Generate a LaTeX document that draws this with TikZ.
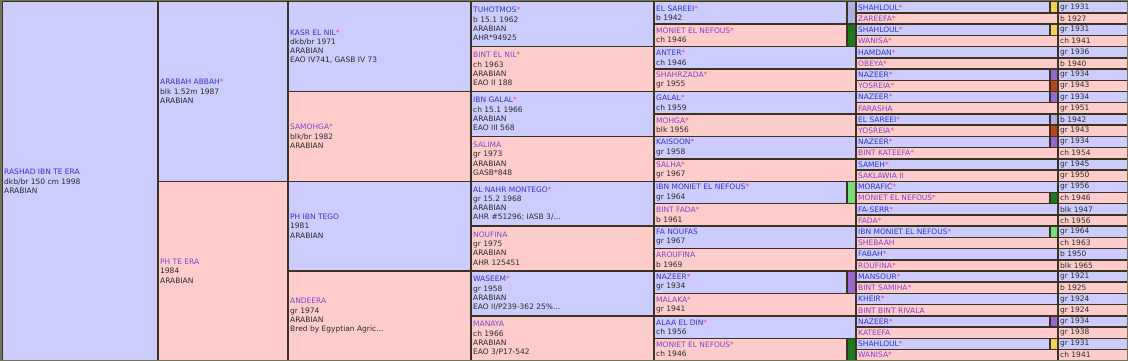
\documentclass[tikz,border=0pt]{standalone}
\usepackage{fontspec}
\setmainfont{DejaVu Sans}
\definecolor{bgm}{HTML}{CCCCFF}
\definecolor{bgf}{HTML}{FFCCCC}
\definecolor{bord}{HTML}{3B3222}
\definecolor{frame}{HTML}{75755A}
\definecolor{mname}{HTML}{3434C4}
\definecolor{fname}{HTML}{7C44CC}
\definecolor{star}{HTML}{F0406A}
\definecolor{info}{HTML}{2A2A2A}
\definecolor{swlav}{HTML}{AFAFE0}
\definecolor{swdg}{HTML}{1C7A1C}
\definecolor{swlg}{HTML}{7ADF7A}
\definecolor{swpur}{HTML}{9966CC}
\definecolor{swyel}{HTML}{F2D060}
\definecolor{swrust}{HTML}{B8461C}
\tikzset{
 cellbox/.style={rectangle, draw=bord, line width=1.5pt, inner sep=0pt, anchor=north west},
 txt/.style={anchor=west, align=left, inner sep=0pt, text=info, font=\fontsize{7.5}{9.3}\selectfont},
}
\newcommand\RH{11.21875}
\newcommand\mName[1]{\textcolor{mname}{#1}}
\newcommand\fName[1]{\textcolor{fname}{#1}}
\newcommand\pstar{\textcolor{star}{*}}
% id, x, row, width, nrows, fill
\newcommand\pcell[6]{\node[cellbox, fill=#6, minimum width=#4pt, minimum height={#5*\RH}] (#1) at (#2, {-(1+#3*\RH)}) {};}
\newcommand\ptext[2]{\node[txt] (#1t) at ([xshift=3pt]#1.west) {#2};}
% col6 without swatch: id,row,content,date,bg
\newcommand\six[5]{\pcell{#1}{855}{#2}{202}{1}{#5}\ptext{#1}{#3}\pcell{#1d}{1057}{#2}{70}{1}{#5}\ptext{#1d}{#4}}
% col6 with swatch
\newcommand\sixs[6]{\pcell{#1}{855}{#2}{194}{1}{#5}\ptext{#1}{#3}\pcell{#1s}{1049}{#2}{8}{1}{#6}\pcell{#1d}{1057}{#2}{70}{1}{#5}\ptext{#1d}{#4}}
% col5 without swatch: id,row,content,bg
\newcommand\five[4]{\pcell{#1}{653}{#2}{202}{2}{#4}\ptext{#1}{#3}}
\newcommand\fives[5]{\pcell{#1}{653}{#2}{193}{2}{#4}\ptext{#1}{#3}\pcell{#1s}{846}{#2}{9}{2}{#5}}
\begin{document}
\begin{tikzpicture}[x=1pt,y=1pt]
\useasboundingbox (0,0) rectangle (1128,-361);
\fill[white] (0,0) rectangle (1128,-361);
% column 1
\pcell{a}{1}{0}{156}{32}{bgm}
\ptext{a}{\mName{RASHAD IBN TE ERA}\\dkb/br 150 cm 1998\\ARABIAN}
% column 2
\pcell{b1}{157}{0}{130}{16}{bgm}
\ptext{b1}{\mName{ARABAH ABBAH}\pstar\\blk 1.52m 1987\\ARABIAN}
\pcell{b2}{157}{16}{130}{16}{bgf}
\ptext{b2}{\fName{PH TE ERA}\\1984\\ARABIAN}
% column 3
\pcell{c1}{287}{0}{183}{8}{bgm}
\ptext{c1}{\mName{KASR EL NIL}\pstar\\dkb/br 1971\\ARABIAN\\EAO IV741, GASB IV 73}
\pcell{c2}{287}{8}{183}{8}{bgf}
\ptext{c2}{\fName{SAMOHGA}\pstar\\blk/br 1982\\ARABIAN}
\pcell{c3}{287}{16}{183}{8}{bgm}
\ptext{c3}{\mName{PH IBN TEGO}\\1981\\ARABIAN}
\pcell{c4}{287}{24}{183}{8}{bgf}
\ptext{c4}{\fName{ANDEERA}\\gr 1974\\ARABIAN\\Bred by Egyptian Agric...}
% column 4
\pcell{d1}{470}{0}{183}{4}{bgm}
\ptext{d1}{\mName{TUHOTMOS}\pstar\\b 15.1 1962\\ARABIAN\\AHR*94925}
\pcell{d2}{470}{4}{183}{4}{bgf}
\ptext{d2}{\fName{BINT EL NIL}\pstar\\ch 1963\\ARABIAN\\EAO II 188}
\pcell{d3}{470}{8}{183}{4}{bgm}
\ptext{d3}{\mName{IBN GALAL}\pstar\\ch 15.1 1966\\ARABIAN\\EAO III 568}
\pcell{d4}{470}{12}{183}{4}{bgf}
\ptext{d4}{\fName{SALIMA}\\gr 1973\\ARABIAN\\GASB*848}
\pcell{d5}{470}{16}{183}{4}{bgm}
\ptext{d5}{\mName{AL NAHR MONTEGO}\pstar\\gr 15.2 1968\\ARABIAN\\AHR \#51296; IASB 3/...}
\pcell{d6}{470}{20}{183}{4}{bgf}
\ptext{d6}{\fName{NOUFINA}\\gr 1975\\ARABIAN\\AHR 125451}
\pcell{d7}{470}{24}{183}{4}{bgm}
\ptext{d7}{\mName{WASEEM}\pstar\\gr 1958\\ARABIAN\\EAO II/P239-362 25\%...}
\pcell{d8}{470}{28}{183}{4}{bgf}
\ptext{d8}{\fName{MANAYA}\\ch 1966\\ARABIAN\\EAO 3/P17-542}
% column 5
\fives{e1}{0}{\mName{EL SAREEI}\pstar\\b 1942}{bgm}{swlav}
\fives{e2}{2}{\fName{MONIET EL NEFOUS}\pstar\\ch 1946}{bgf}{swdg}
\five{e3}{4}{\mName{ANTER}\pstar\\ch 1946}{bgm}
\five{e4}{6}{\fName{SHAHRZADA}\pstar\\gr 1955}{bgf}
\five{e5}{8}{\mName{GALAL}\pstar\\ch 1959}{bgm}
\five{e6}{10}{\fName{MOHGA}\pstar\\blk 1956}{bgf}
\five{e7}{12}{\mName{KAISOON}\pstar\\gr 1958}{bgm}
\five{e8}{14}{\fName{SALHA}\pstar\\gr 1967}{bgf}
\fives{e9}{16}{\mName{IBN MONIET EL NEFOUS}\pstar\\gr 1964}{bgm}{swlg}
\five{e10}{18}{\fName{BINT FADA}\pstar\\b 1961}{bgf}
\five{e11}{20}{\mName{FA NOUFAS}\\gr 1967}{bgm}
\five{e12}{22}{\fName{AROUFINA}\\b 1969}{bgf}
\fives{e13}{24}{\mName{NAZEER}\pstar\\gr 1934}{bgm}{swpur}
\five{e14}{26}{\fName{MALAKA}\pstar\\gr 1941}{bgf}
\five{e15}{28}{\mName{ALAA EL DIN}\pstar\\ch 1956}{bgm}
\fives{e16}{30}{\fName{MONIET EL NEFOUS}\pstar\\ch 1946}{bgf}{swdg}
% column 6
\sixs{f1}{0}{\mName{SHAHLOUL}\pstar}{gr 1931}{bgm}{swyel}
\six{f2}{1}{\fName{ZAREEFA}\pstar}{b 1927}{bgf}
\sixs{f3}{2}{\mName{SHAHLOUL}\pstar}{gr 1931}{bgm}{swyel}
\six{f4}{3}{\fName{WANISA}\pstar}{ch 1941}{bgf}
\six{f5}{4}{\mName{HAMDAN}\pstar}{gr 1936}{bgm}
\six{f6}{5}{\fName{OBEYA}\pstar}{b 1940}{bgf}
\sixs{f7}{6}{\mName{NAZEER}\pstar}{gr 1934}{bgm}{swpur}
\sixs{f8}{7}{\fName{YOSREIA}\pstar}{gr 1943}{bgf}{swrust}
\sixs{f9}{8}{\mName{NAZEER}\pstar}{gr 1934}{bgm}{swpur}
\six{f10}{9}{\fName{FARASHA}}{gr 1951}{bgf}
\sixs{f11}{10}{\mName{EL SAREEI}\pstar}{b 1942}{bgm}{swlav}
\sixs{f12}{11}{\fName{YOSREIA}\pstar}{gr 1943}{bgf}{swrust}
\sixs{f13}{12}{\mName{NAZEER}\pstar}{gr 1934}{bgm}{swpur}
\six{f14}{13}{\fName{BINT KATEEFA}\pstar}{ch 1954}{bgf}
\six{f15}{14}{\mName{SAMEH}\pstar}{gr 1945}{bgm}
\six{f16}{15}{\fName{SAKLAWIA II}}{gr 1950}{bgf}
\six{f17}{16}{\mName{MORAFIC}\pstar}{gr 1956}{bgm}
\sixs{f18}{17}{\fName{MONIET EL NEFOUS}\pstar}{ch 1946}{bgf}{swdg}
\six{f19}{18}{\mName{FA-SERR}\pstar}{blk 1947}{bgm}
\six{f20}{19}{\fName{FADA}\pstar}{ch 1956}{bgf}
\sixs{f21}{20}{\mName{IBN MONIET EL NEFOUS}\pstar}{gr 1964}{bgm}{swlg}
\six{f22}{21}{\fName{SHEBAAH}}{ch 1963}{bgf}
\six{f23}{22}{\mName{FABAH}\pstar}{b 1950}{bgm}
\six{f24}{23}{\fName{ROUFINA}\pstar}{blk 1965}{bgf}
\six{f25}{24}{\mName{MANSOUR}\pstar}{gr 1921}{bgm}
\six{f26}{25}{\fName{BINT SAMIHA}\pstar}{b 1925}{bgf}
\six{f27}{26}{\mName{KHEIR}\pstar}{gr 1924}{bgm}
\six{f28}{27}{\fName{BINT BINT RIVALA}}{gr 1924}{bgf}
\sixs{f29}{28}{\mName{NAZEER}\pstar}{gr 1934}{bgm}{swpur}
\six{f30}{29}{\fName{KATEEFA}}{gr 1938}{bgf}
\sixs{f31}{30}{\mName{SHAHLOUL}\pstar}{gr 1931}{bgm}{swyel}
\six{f32}{31}{\fName{WANISA}\pstar}{ch 1941}{bgf}
% outer frame
\draw[frame, line width=1.5pt] (0.75,-0.75) rectangle (1127.25,-360.25);
\end{tikzpicture}
\end{document}
